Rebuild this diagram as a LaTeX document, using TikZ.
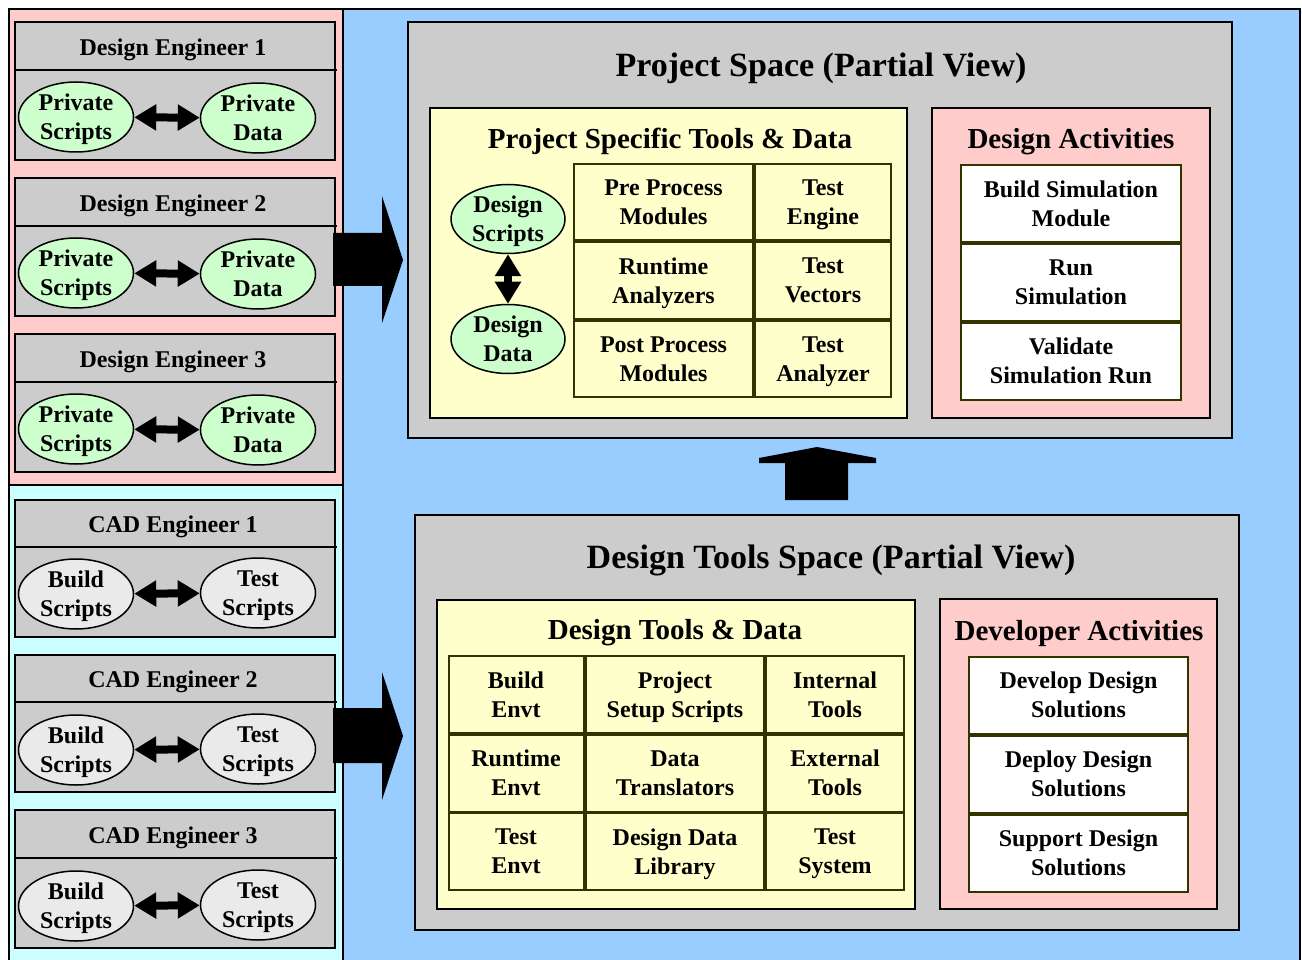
\documentclass[tikz,border=0pt]{standalone}
\usepackage{fontspec}
\setmainfont{Liberation Serif}
\usetikzlibrary{shapes.geometric,arrows.meta}

\definecolor{pinkbg}{HTML}{FFCCCC}
\definecolor{cyanbg}{HTML}{CCFFFF}
\definecolor{bluebg}{HTML}{99CCFF}
\definecolor{boxgray}{HTML}{CCCCCC}
\definecolor{paleyellow}{HTML}{FFFFCC}
\definecolor{palegreen}{HTML}{CCFFCC}
\definecolor{bubblegray}{HTML}{EAEAEA}
\definecolor{cellline}{HTML}{333300}

\begin{document}
\begin{tikzpicture}[x=1pt,y=-1pt,
  every node/.style={font=\bfseries\fontsize{24}{29}\selectfont, align=center, text depth=0pt},
  frame/.style={draw=black, line width=2pt},
  graybox/.style={frame, fill=boxgray},
  yellowbox/.style={frame, fill=paleyellow},
  pinkbox/.style={frame, fill=pinkbg},
  bubble/.style={ellipse, draw=black, line width=1.5pt, minimum width=115pt, minimum height=70pt, inner sep=-3pt},
  greenbubble/.style={bubble, fill=palegreen},
  greybubble/.style={bubble, fill=bubblegray},
  swap/.style={line width=8pt, {Triangle[length=22pt,width=25pt]}-{Triangle[length=22pt,width=25pt]}},
  cell/.style={draw=cellline, line width=2pt, fill=paleyellow, inner sep=0pt},
  task/.style={cell, fill=white},
  bigtitle/.style={font=\bfseries\fontsize{34}{40}\selectfont},
  midtitle/.style={font=\bfseries\fontsize{29}{34}\selectfont}]
\useasboundingbox (0,0) rectangle (1302,960);
\clip (0,0) rectangle (1302,960);

% Backgrounds and outer frame
\fill[bluebg] (343,9) rectangle (1300,970);
\fill[pinkbg] (9,9) rectangle (343,485);
\fill[cyanbg] (9,485) rectangle (343,970);
\draw[frame] (9,970) -- (9,9) -- (1300,9) -- (1300,970);
\draw[frame] (343,9) -- (343,970);
\draw[frame] (9,485) -- (343,485);

% Design engineers
\draw[graybox] (15,22) rectangle (335,160);
\draw[frame] (15,70) -- (337,70);
\node (de1) at (173,47) {Design Engineer 1};
\node[greenbubble] (pscr1) at (76,117) {Private\\Scripts};
\node[greenbubble] (pdat1) at (258,118) {Private\\Data};
\draw[swap] (pscr1) -- (pdat1);

\draw[graybox] (15,178) rectangle (335,316);
\draw[frame] (15,226) -- (337,226);
\node (de2) at (173,203) {Design Engineer 2};
\node[greenbubble] (pscr2) at (76,273) {Private\\Scripts};
\node[greenbubble] (pdat2) at (258,274) {Private\\Data};
\draw[swap] (pscr2) -- (pdat2);

\draw[graybox] (15,334) rectangle (335,472);
\draw[frame] (15,382) -- (337,382);
\node (de3) at (173,359) {Design Engineer 3};
\node[greenbubble] (pscr3) at (76,429) {Private\\Scripts};
\node[greenbubble] (pdat3) at (258,430) {Private\\Data};
\draw[swap] (pscr3) -- (pdat3);

% CAD engineers
\draw[graybox] (15,500) rectangle (335,637);
\draw[frame] (15,547) -- (337,547);
\node (cad1) at (173,524) {CAD Engineer 1};
\node[greybubble] (bscr1) at (76,594) {Build\\Scripts};
\node[greybubble] (tscr1) at (258,593) {Test\\Scripts};
\draw[swap] (bscr1) -- (tscr1);

\draw[graybox] (15,655) rectangle (335,792);
\draw[frame] (15,702) -- (337,702);
\node (cad2) at (173,679) {CAD Engineer 2};
\node[greybubble] (bscr2) at (76,750) {Build\\Scripts};
\node[greybubble] (tscr2) at (258,749) {Test\\Scripts};
\draw[swap] (bscr2) -- (tscr2);

\draw[graybox] (15,810) rectangle (335,948);
\draw[frame] (15,858) -- (337,858);
\node (cad3) at (173,835) {CAD Engineer 3};
\node[greybubble] (bscr3) at (76,906) {Build\\Scripts};
\node[greybubble] (tscr3) at (258,905) {Test\\Scripts};
\draw[swap] (bscr3) -- (tscr3);

% Block arrows into the spaces
\fill (333,233) -- (382,233) -- (382,196) -- (403,260) -- (382,323) -- (382,286) -- (333,286) -- cycle;
\fill (333,708) -- (382,708) -- (382,672) -- (403,736) -- (382,800) -- (382,763) -- (333,763) -- cycle;
\fill (785,500) -- (785,463) -- (759,463) -- (759,458) -- (817,447) -- (876,458) -- (876,463) -- (848,463) -- (848,500) -- cycle;

% Project space
\draw[graybox] (408,22) rectangle (1232,438);
\node[bigtitle] (pspace) at (821,65) {Project Space (Partial View)};
\draw[yellowbox] (430,108) rectangle (907,418);
\node[midtitle] (ptools) at (670,138) {Project Specific Tools \& Data};
\node[greenbubble, minimum width=114pt, minimum height=69pt] (dscr) at (508,219) {Design\\Scripts};
\node[greenbubble, minimum width=114pt, minimum height=69pt] (ddat) at (508,339) {Design\\Data};
\draw[swap] (dscr) -- (ddat);
\node[cell, minimum width=179pt, minimum height=76pt] (preproc) at (663.5,202) {Pre Process\\Modules};
\node[cell, minimum width=136pt, minimum height=76pt] (tengine) at (823,202) {Test\\Engine};
\node[cell, minimum width=179pt, minimum height=76pt] (rtanal) at (663.5,280.5) {Runtime\\Analyzers};
\node[cell, minimum width=136pt, minimum height=76pt] (tvect) at (823,280.5) {Test\\Vectors};
\node[cell, minimum width=179pt, minimum height=76pt] (postproc) at (663.5,359) {Post Process\\Modules};
\node[cell, minimum width=136pt, minimum height=76pt] (tanal) at (823,359) {Test\\Analyzer};

\draw[pinkbox] (932,108) rectangle (1210,418);
\node[midtitle] (dact) at (1071,138) {Design Activities};
\node[task, minimum width=220pt, minimum height=77pt] (buildsim) at (1071,203.5) {Build Simulation\\Module};
\node[task, minimum width=220pt, minimum height=77pt] (runsim) at (1071,282.5) {Run\\Simulation};
\node[task, minimum width=220pt, minimum height=77pt] (valsim) at (1071,361) {Validate\\Simulation Run};

% Design tools space
\draw[graybox] (415,515) rectangle (1239,930);
\node[bigtitle] (dtspace) at (831,557) {Design Tools Space (Partial View)};
\draw[yellowbox] (437,600) rectangle (915,909);
\node[midtitle] (dtools) at (675,629) {Design Tools \& Data};
\node[cell, minimum width=135pt, minimum height=77pt] (benvt) at (516,694.5) {Build\\Envt};
\node[cell, minimum width=178pt, minimum height=77pt] (psetup) at (675,694.5) {Project\\Setup Scripts};
\node[cell, minimum width=138pt, minimum height=77pt] (itools) at (835,694.5) {Internal\\Tools};
\node[cell, minimum width=135pt, minimum height=77pt] (renvt) at (516,773) {Runtime\\Envt};
\node[cell, minimum width=178pt, minimum height=77pt] (dtrans) at (675,773) {Data\\Translators};
\node[cell, minimum width=138pt, minimum height=77pt] (etools) at (835,773) {External\\Tools};
\node[cell, minimum width=135pt, minimum height=77pt] (tenvt) at (516,851.5) {Test\\Envt};
\node[cell, minimum width=178pt, minimum height=77pt] (ddlib) at (675,851.5) {Design Data\\Library};
\node[cell, minimum width=138pt, minimum height=77pt] (tsys) at (835,851.5) {Test\\System};

\draw[pinkbox] (940,599) rectangle (1217,909);
\node[midtitle] (devact) at (1079,630) {Developer Activities};
\node[task, minimum width=219pt, minimum height=77pt] (develop) at (1078.5,695) {Develop Design\\Solutions};
\node[task, minimum width=219pt, minimum height=77pt] (deploy) at (1078.5,774) {Deploy Design\\Solutions};
\node[task, minimum width=219pt, minimum height=77pt] (support) at (1078.5,853) {Support Design\\Solutions};
\end{tikzpicture}
\end{document}
